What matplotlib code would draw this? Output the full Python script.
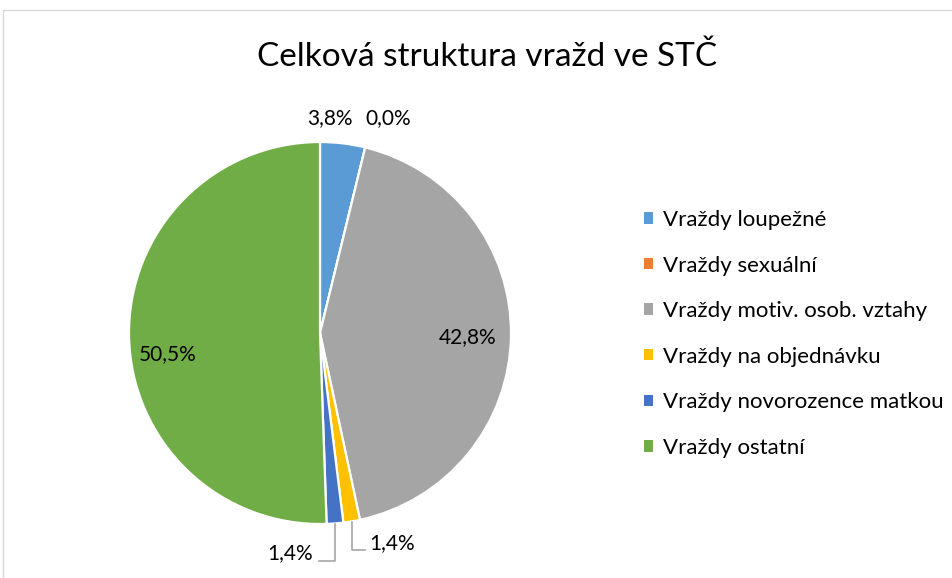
import numpy as np
import matplotlib.pyplot as plt
from matplotlib.patches import Patch, Rectangle

plt.rcParams['font.family'] = ['Lato', 'DejaVu Sans']

categories = ['Vraždy loupežné', 'Vraždy sexuální', 'Vraždy motiv. osob. vztahy',
              'Vraždy na objednávku', 'Vraždy novorozence matkou', 'Vraždy ostatní']
values = [3.8, 0.0, 42.8, 1.4, 1.4, 50.5]
colors = ['#5B9BD5', '#ED7D31', '#A5A5A5', '#FFC000', '#4472C4', '#70AD47']

# label positions (data units, pie radius = 1)
label_pos = [(0.052, 1.126), (0.356, 1.126), (0.775, -0.021),
             (0.377, -1.099), (-0.157, -1.152), (-0.796, -0.110)]

fig = plt.figure(figsize=(9.52, 5.78), dpi=100)
fig.patches.append(Rectangle((3 / 952, -0.1), 1.1, (578 - 10) / 578 + 0.1,
                             transform=fig.transFigure, fill=False,
                             edgecolor='#D9D9D9', linewidth=1))

fig.text(487 / 952, 1 - 57 / 578, 'Celková struktura vražd ve STČ',
         ha='center', va='center', fontsize=24, color='#000000')

ax = fig.add_axes([129 / 952, 54 / 578, 382 / 952, 382 / 578])
wedges, _ = ax.pie(values, colors=colors, startangle=90, counterclock=False,
                   radius=1, wedgeprops=dict(edgecolor='white', linewidth=1.6))
ax.set_xlim(-1, 1)
ax.set_ylim(-1, 1)
ax.set_aspect('equal')
ax.axis('off')

for v, (x, y) in zip(values, label_pos):
    ax.text(x, y, f'{v:.1f}%'.replace('.', ','), ha='center', va='center',
            fontsize=15, color='#000000', clip_on=False)

# leader lines for the two small bottom slices
for i, side in [(3, 1), (4, -1)]:
    w = wedges[i]
    mid = np.deg2rad((w.theta1 + w.theta2) / 2)
    x0, y0 = np.cos(mid), np.sin(mid)
    lx, ly = label_pos[i]
    yl = ly - 0.035 if side > 0 else ly - 0.04
    xe = lx - 0.14 if side > 0 else lx + 0.15
    ax.plot([x0, x0, xe], [y0 - 0.005, yl, yl], color='#A6A6A6', lw=1.2,
            clip_on=False)

handles = [Patch(facecolor=c, edgecolor='none') for c in colors]
fig.legend(handles, categories, loc='upper left',
           bbox_to_anchor=(644 / 952, 1 - 210 / 578), frameon=False,
           fontsize=16, handlelength=0.42, handleheight=0.42, handletextpad=0.45,
           labelspacing=1.15, borderpad=0, borderaxespad=0)

fig.savefig('out.png', dpi=100)
